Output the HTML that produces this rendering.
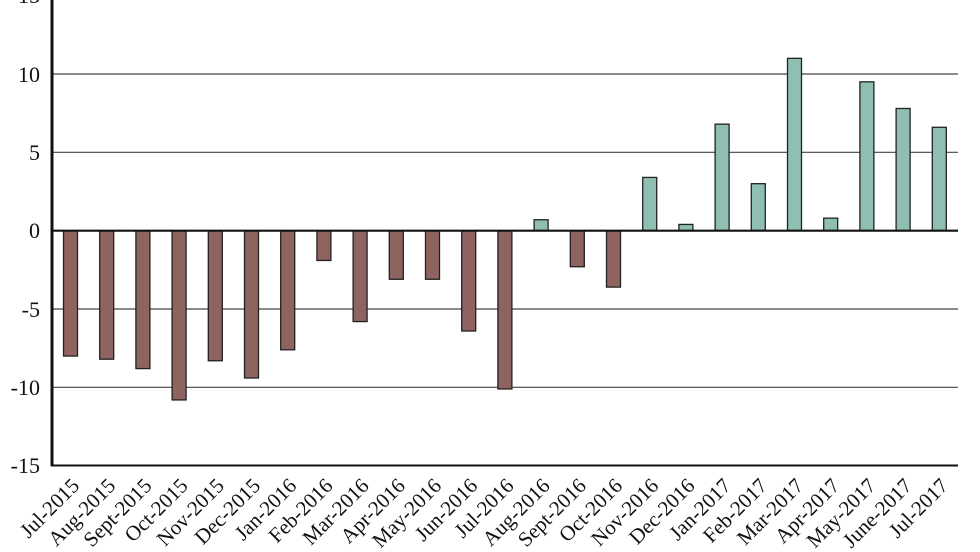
<!DOCTYPE html>
<html><head><meta charset="utf-8"><style>body{margin:0;background:#fff}svg{display:block}</style></head><body>
<svg width="980" height="552" xmlns="http://www.w3.org/2000/svg" font-family="Liberation Serif, serif">
<g stroke="#444" stroke-width="1.2">
<line x1="52" y1="-4" x2="958" y2="-4"/>
<line x1="52" y1="74" x2="958" y2="74"/>
<line x1="52" y1="152.3" x2="958" y2="152.3"/>
<line x1="52" y1="309" x2="958" y2="309"/>
<line x1="52" y1="387.3" x2="958" y2="387.3"/>
</g>
<g font-size="22" fill="#111" text-anchor="end">
<text x="40" y="3">15</text>
<text x="40" y="82">10</text>
<text x="40" y="160">5</text>
<text x="40" y="238">0</text>
<text x="40" y="317">-5</text>
<text x="40" y="395">-10</text>
<text x="40" y="473">-15</text>
</g>
<g id="bars" stroke="#222" stroke-width="1.3"></g>
<line x1="52" y1="230.7" x2="958" y2="230.7" stroke="#111" stroke-width="2.2"/>
<line x1="52" y1="-10" x2="52" y2="466" stroke="#111" stroke-width="3"/>
<line x1="51" y1="465.5" x2="958" y2="465.5" stroke="#111" stroke-width="2"/>
<g id="labels" font-size="21" fill="#111" text-anchor="end"></g>
<script>
var v=[-8,-8.2,-8.8,-10.8,-8.3,-9.4,-7.6,-1.9,-5.8,-3.1,-3.1,-6.4,-10.1,0.7,-2.3,-3.6,3.4,0.4,6.8,3.0,11.0,0.8,9.5,7.8,6.6];
var l=["Jul-2015","Aug-2015","Sept-2015","Oct-2015","Nov-2015","Dec-2015","Jan-2016","Feb-2016","Mar-2016","Apr-2016","May-2016","Jun-2016","Jul-2016","Aug-2016","Sept-2016","Oct-2016","Nov-2016","Dec-2016","Jan-2017","Feb-2017","Mar-2017","Apr-2017","May-2017","June-2017","Jul-2017"];
var ns="http://www.w3.org/2000/svg",b=document.getElementById("bars"),L=document.getElementById("labels");
for(var i=0;i<25;i++){var c=70.5+i*36.2,y0=230.7,y1=y0-v[i]*15.67;
var r=document.createElementNS(ns,"rect");r.setAttribute("x",c-7);r.setAttribute("width",14);
r.setAttribute("y",Math.min(y0,y1));r.setAttribute("height",Math.abs(y1-y0));
r.setAttribute("fill",v[i]<0?"#8f6360":"#8fbfb2");b.appendChild(r);
var t=document.createElementNS(ns,"text");t.setAttribute("transform","translate("+(c+10)+",487) rotate(-45)");t.textContent=l[i];L.appendChild(t);}
</script>
</svg>
</body></html>
